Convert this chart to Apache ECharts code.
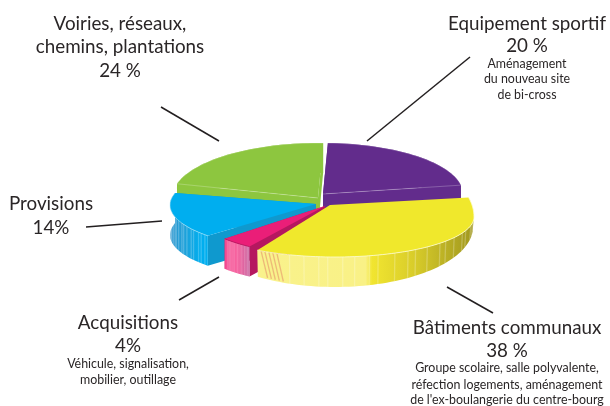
<!DOCTYPE html>
<html><head><meta charset="utf-8">
<style>html,body{margin:0;padding:0;background:#fff}#c{width:610px;height:406px}</style>
<script src="https://cdn.jsdelivr.net/npm/echarts@6/dist/echarts.min.js"></script>
</head><body><div id="c"></div>
<script>
// --- data, clockwise from the gap at the top ---
const categories = ['Equipement sportif', 'Bâtiments communaux', 'Acquisitions', 'Provisions', 'Voiries'];
const percents   = [20, 38, 4, 14, 24];

// --- drawing style ---
const startAngle = 88;
const depth = 30;
// per-slice skew of [start, end] angle, the original is hand-drawn
const layout = [
  {warp:[0,-6], cx:323, cy:194, rx:140, ry:51, tip:[323,194], top:'#622C8C', wall:[[0,'#622C8C'],[1,'#622C8C']], inner:'#622C8C', edge:'rgba(255,255,255,.3)', edgeTo:'end'},
  {warp:[0,-3.2], cx:335, cy:217, rx:139, ry:40, ryUp:71, tip:[330,205], top:'#F0E82C', wallFrom:0,
   bottom:{cx:335, cy:227, rx:138, ry:60},
   wall:[[0,'#F9F28C'],[.5,'#F9F186'],[.53,'#F1E530'],[.72,'#D9CD2A'],[1,'#A0971E']], edge:'#FDFBD0', streak:'rgba(255,255,255,.24)', tint:'rgba(226,130,100,.5)'},
  {warp:[-3.2,-2.8], cx:325, cy:206, rx:135, ry:49, tip:[325,206], top:'#EA1E78', wall:[[0,'#F5478F'],[.5,'#F5478F'],[1,'#C45A9A']], inner:'#B5175F', edge:'#B5175F', streak:'rgba(255,255,255,.18)'},
  {warp:[-2.8,-9.4], cx:317, cy:205, rx:147, ry:46, tip:[316,204], top:'#00AEEF', wall:[[0,'#2F96CE'],[.45,'#1BA3DC'],[.8,'#00AEEF'],[1,'#00AEEF']], inner:'#0F99CE', edge:'rgba(190,235,250,.7)', streak:'rgba(255,255,255,.22)'},
  {warp:[-9.4,0], cx:318, cy:198, rx:146, ry:55, tip:[318,198], top:'#8DC63F', wall:[[0,'#8DC63F'],[1,'#8DC63F']], inner:'#8DC63F', edge:'rgba(255,255,255,.3)', edgeTo:'start'}
];
const drawOrder = [4, 0, 3, 2, 1];
const streakFractions = [.03,.07,.1,.16,.19,.25,.3,.33,.39,.44,.47,.52,.58,.61,.66,.7,.75,.78,.83,.88];
const tintFractions = [.925,.94,.955,.97,.985];

const total = percents.reduce((a, b) => a + b, 0);
const cumAngle = [startAngle];
let cum = 0;
percents.forEach(v => { cum += v; cumAngle.push(startAngle - cum / total * 360); });

function pt(s, deg) {
  const r = deg * Math.PI / 180, sn = Math.sin(r);
  return [s.cx + s.rx * Math.cos(r), s.cy - (sn > 0 && s.ryUp ? s.ryUp : s.ry) * sn];
}
function arcOf(fn, a, b) {
  const n = Math.max(6, Math.ceil(Math.abs(a - b) / 2)), out = [];
  for (let i = 0; i <= n; i++) out.push(fn(a + (b - a) * i / n));
  return out;
}

function renderSlice(params, api) {
  const idx = api.value(0), s = layout[idx];
  const a = cumAngle[idx] + s.warp[0], b = cumAngle[idx + 1] + s.warp[1];
  const rimPt = d => pt(s, d);
  const lowPt = d => s.bottom ? pt(s.bottom, d) : [pt(s, d)[0], pt(s, d)[1] + depth];
  const rim = arcOf(rimPt, a, b), tip = s.tip, els = [];
  const down = p => [p[0], p[1] + depth];
  const poly = (points, fill) => els.push({type:'polygon', shape:{points}, style:{fill}, silent:true});
  if (s.inner) {
    poly([tip, rim[0], down(rim[0]), down(tip)], s.inner);
    poly([tip, rim[rim.length - 1], down(rim[rim.length - 1]), down(tip)], s.inner);
  }
  const wa = s.wallFrom !== undefined ? s.wallFrom : a;
  const wTop = arcOf(rimPt, wa, b), wLow = arcOf(lowPt, wa, b);
  const xs = wTop.map(p => p[0]), x0 = Math.min.apply(null, xs), x1 = Math.max.apply(null, xs);
  poly(wTop.concat(wLow.slice().reverse()), {type:'linear', x:x0, y:0, x2:x1, y2:0, global:true,
    colorStops:s.wall.map(w => ({offset:w[0], color:w[1]}))});
  const seam = (f, color, lean) => {
    const d = wa + (b - wa) * f, p = rimPt(d), q = lowPt(d);
    if (Math.sin(d * Math.PI / 180) > 0) return;
    els.push({type:'line', shape:{x1:p[0], y1:p[1], x2:q[0] + lean, y2:q[1]}, style:{stroke:color, lineWidth:1.3}, silent:true});
  };
  if (s.streak) streakFractions.forEach(f => seam(f, s.streak, 0));
  if (s.tint) tintFractions.forEach(f => seam(f, s.tint, 6));
  poly([tip].concat(rim), s.top);
  els.push({type:'polyline', shape:{points:rim}, style:{fill:null, stroke:s.edge, lineWidth:.8}, silent:true});
  if (s.edgeTo) {
    els.push({type:'polyline', shape:{points:[tip, s.edgeTo === 'end' ? rim[rim.length - 1] : rim[0]]}, style:{fill:null, stroke:s.edge, lineWidth:.8}, silent:true});
  }
  return {type:'group', children:els};
}

// --- labels ---
const font = 'Lato';
const bigSize = 18.8, smallSize = 12.4;
const labels = [
  ['Voiries, réseaux,', 120, 24, bigSize], ['chemins, plantations', 120, 47, bigSize], ['24 %', 120, 71, bigSize],
  ['Equipement sportif', 527, 24, bigSize], ['20 %', 527, 46, bigSize],
  ['Aménagement', 527, 64, smallSize], ['du nouveau site', 527, 79, smallSize], ['de bi-cross', 527, 95, smallSize],
  ['Provisions', 51, 204, bigSize], ['14%', 51, 228, bigSize],
  ['Acquisitions', 128, 323, bigSize], ['4%', 128, 346, bigSize],
  ['Véhicule, signalisation,', 128, 364, smallSize], ['mobilier, outillage', 128, 380, smallSize],
  ['Bâtiments communaux', 507, 328, bigSize], ['38 %', 507, 351, bigSize],
  ['Groupe scolaire, salle polyvalente,', 507, 368, smallSize], ['réfection logements, aménagement', 507, 385, smallSize], ["de l'ex-boulangerie du centre-bourg", 507, 400, smallSize]
];
const leaders = [[161,107,219,141],[367,141,470,57],[86,227,162,221],[179,300,219,277],[447,287,493,313]];

const graphics = labels.map(l => ({type:'text', x:l[1], y:l[2], silent:true,
  style:{text:l[0], x:0, y:0, align:'center', verticalAlign:'middle', font:l[3] + 'px ' + font, fill:'#2A2627'}}))
  .concat(leaders.map(l => ({type:'line', silent:true, shape:{x1:l[0], y1:l[1], x2:l[2], y2:l[3]}, style:{stroke:'#231F20', lineWidth:1.5}})));

const chart = echarts.init(document.getElementById('c'), null, {renderer:'canvas'});
chart.setOption({
  animation:false,
  backgroundColor:'#fff',
  series:[{type:'custom', coordinateSystem:'none', renderItem:renderSlice,
    data:drawOrder.map(i => ({name:categories[i], value:[i, percents[i]]}))}],
  graphic:{elements:graphics}
});
</script></body></html>
